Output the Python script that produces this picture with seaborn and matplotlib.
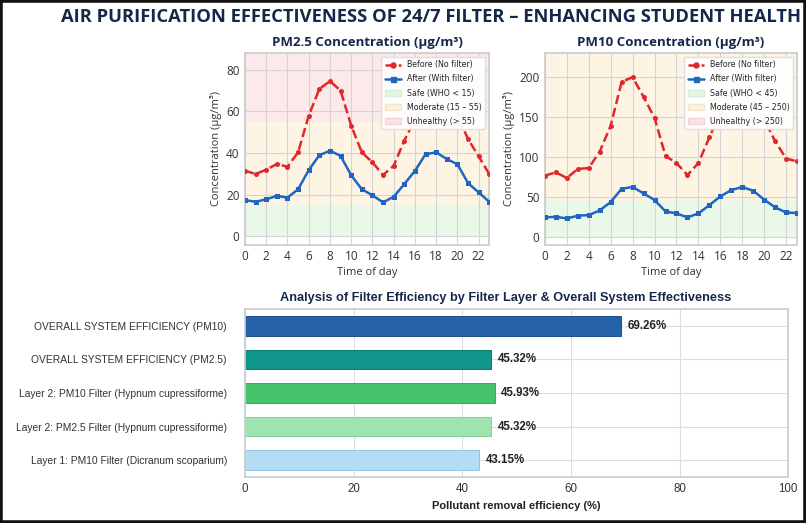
import numpy as np
import pandas as pd
import matplotlib
matplotlib.use("Agg")
import matplotlib.pyplot as plt
from matplotlib.patches import Patch, Rectangle
from matplotlib.lines import Line2D
import seaborn as sns

# hourly data
hours = list(range(24))
pm25_before = [31.5, 29.9, 32.0, 34.7, 33.4, 40.3, 57.9, 70.7, 74.4, 69.9, 53.1, 40.3,
               35.5, 29.4, 33.9, 45.9, 56.0, 66.0, 71.0, 68.0, 58.0, 46.7, 38.4, 29.9]
pm25_after = [17.4, 16.6, 17.8, 19.4, 18.6, 22.6, 31.8, 38.9, 41.1, 38.6, 29.3, 22.6,
              19.7, 16.3, 19.0, 25.1, 31.4, 39.4, 40.3, 37.1, 34.6, 25.6, 21.1, 16.6]
pm10_before = [76.7, 80.8, 73.8, 85.0, 86.3, 106.7, 139.0, 193.8, 199.6, 175.0, 148.8, 101.3,
               92.5, 77.5, 92.5, 124.6, 155.0, 175.0, 180.0, 168.0, 146.7, 119.6, 97.9, 94.6]
pm10_after = [24.6, 25.4, 23.3, 26.7, 27.5, 33.3, 43.8, 60.4, 62.5, 54.6, 46.3, 32.1,
              29.6, 24.6, 29.6, 40.0, 50.8, 58.8, 62.5, 57.9, 46.7, 37.1, 30.8, 30.0]

# efficiency bars
layers = ["OVERALL SYSTEM EFFICIENCY (PM10)",
          "OVERALL SYSTEM EFFICIENCY (PM2.5)",
          "Layer 2: PM10 Filter (Hypnum cupressiforme)",
          "Layer 2: PM2.5 Filter (Hypnum cupressiforme)",
          "Layer 1: PM10 Filter (Dicranum scoparium)"]
efficiency = [69.26, 45.32, 45.93, 45.32, 43.15]
bar_colors = ["#2562aa", "#10958a", "#46c46c", "#9fe3b0", "#b5dcf3"]
bar_edges = ["#1d4f8a", "#0b7a70", "#38a85a", "#86cf98", "#8fc3e6"]

NAVY = "#16284a"
RED = "#e3262c"
BLUE = "#1f66c0"
NARROW = ["Liberation Sans", "DejaVu Sans"]

sns.set_theme(style="whitegrid")
plt.rcParams["font.family"] = ["Open Sans", "DejaVu Sans"]
plt.rcParams["grid.color"] = "#d4d4d4"
plt.rcParams["axes.edgecolor"] = "#cccccc"

fig = plt.figure(figsize=(8.06, 5.23), dpi=100)
fig.patch.set_facecolor("white")

fig.text(0.535, 0.967, "AIR PURIFICATION EFFECTIVENESS OF 24/7 FILTER \u2013 ENHANCING STUDENT HEALTH",
         ha="center", va="center", fontsize=13.2, fontweight="bold", color=NAVY)


def conc_panel(ax, before, after, title, safe, mod, ylim, ticks):
    ax.axhspan(0, safe, color="#e3f6e3", alpha=0.75, zorder=0, lw=0)
    ax.axhspan(safe, mod, color="#fdf1dc", alpha=0.75, zorder=0, lw=0)
    ax.axhspan(mod, ylim[1] + 50, color="#fde2e2", alpha=0.75, zorder=0, lw=0)
    sns.lineplot(x=hours, y=before, ax=ax, color=RED, linestyle="--", marker="o",
                 markersize=3.6, markeredgewidth=0, linewidth=1.8, zorder=3)
    sns.lineplot(x=hours, y=after, ax=ax, color=BLUE, marker="s",
                 markersize=3.6, markeredgewidth=0, linewidth=1.8, zorder=3)
    ax.set_xlim(0, 23)
    ax.set_ylim(*ylim)
    ax.set_xticks(range(0, 24, 2))
    ax.set_yticks(ticks)
    ax.set_axisbelow(True)
    ax.grid(True, color="#d4d4d4", lw=0.8)
    ax.set_title(title, fontsize=9.5, fontweight="bold", color=NAVY, pad=5)
    ax.set_xlabel("Time of day", fontsize=8, color="#333333", labelpad=3)
    ax.set_ylabel("Concentration (\u00b5g/m\u00b3)", fontsize=8, color="#333333", labelpad=3)
    ax.tick_params(labelsize=8.5, colors="#333333", pad=4, length=0)
    handles = [Line2D([], [], color=RED, ls="--", marker="o", ms=3.6, lw=1.8),
               Line2D([], [], color=BLUE, marker="s", ms=3.6, lw=1.8),
               Patch(facecolor="#e3f6e3", edgecolor="#d8ecd8"),
               Patch(facecolor="#fdf1dc", edgecolor="#f2e6d0"),
               Patch(facecolor="#fde2e2", edgecolor="#f2d4d4")]
    labels = ["Before (No filter)", "After (With filter)",
              f"Safe (WHO < {safe})", f"Moderate ({safe} \u2013 {mod})", f"Unhealthy (> {mod})"]
    leg = ax.legend(handles, labels, loc="upper right", frameon=True,
                    framealpha=0.95, borderpad=0.45, labelspacing=0.65, handlelength=2.0,
                    handletextpad=0.8, prop={"family": "DejaVu Sans", "size": 5.7})
    leg.get_frame().set_edgecolor("#dddddd")


ax1 = fig.add_axes([0.304, 0.532, 0.303, 0.367])
conc_panel(ax1, pm25_before, pm25_after, "PM2.5 Concentration (\u00b5g/m\u00b3)",
           15, 55, (-4, 88), [0, 20, 40, 60, 80])

ax2 = fig.add_axes([0.676, 0.532, 0.313, 0.367])
conc_panel(ax2, pm10_before, pm10_after, "PM10 Concentration (\u00b5g/m\u00b3)",
           45, 250, (-9.5, 230), [0, 50, 100, 150, 200])

# efficiency bars
ax3 = fig.add_axes([0.304, 0.088, 0.674, 0.321])
df = pd.DataFrame({"layer": layers, "eff": efficiency})
sns.barplot(data=df, x="eff", y="layer", hue="layer", palette=bar_colors, legend=False,
            orient="h", width=0.58, ax=ax3, saturation=1, linewidth=0.7, zorder=2)
for patch, ec in zip(ax3.patches, bar_edges):
    patch.set_edgecolor(ec)
for i, v in enumerate(efficiency):
    ax3.text(v + 1.2, i, f"{v:.2f}%", va="center", ha="left", fontsize=8.3,
             fontweight="bold", color="#222222", family=NARROW)
ax3.set_xlim(0, 100)
ax3.set_axisbelow(True)
ax3.grid(True, color="#dddddd", lw=0.8)
ax3.set_title("Analysis of Filter Efficiency by Filter Layer & Overall System Effectiveness",
              fontsize=9.2, fontweight="bold", color=NAVY, pad=6, family=NARROW, x=0.48)
ax3.set_xlabel("Pollutant removal efficiency (%)", fontsize=8, fontweight="bold",
               color="#222222", family=NARROW, labelpad=5)
ax3.set_ylabel("")
ax3.tick_params(axis="y", labelsize=7.4, colors="#333333", pad=13, length=0)
ax3.tick_params(axis="x", labelsize=8.3, colors="#333333", pad=4, length=0)
for lab in ax3.get_yticklabels() + ax3.get_xticklabels():
    lab.set_family(NARROW)

# dark frame round the picture
fig.patches.append(Rectangle((0, 0), 1, 1, transform=fig.transFigure, fill=False,
                             edgecolor="#111111", linewidth=4, zorder=10))

fig.savefig("out.png", dpi=100)
